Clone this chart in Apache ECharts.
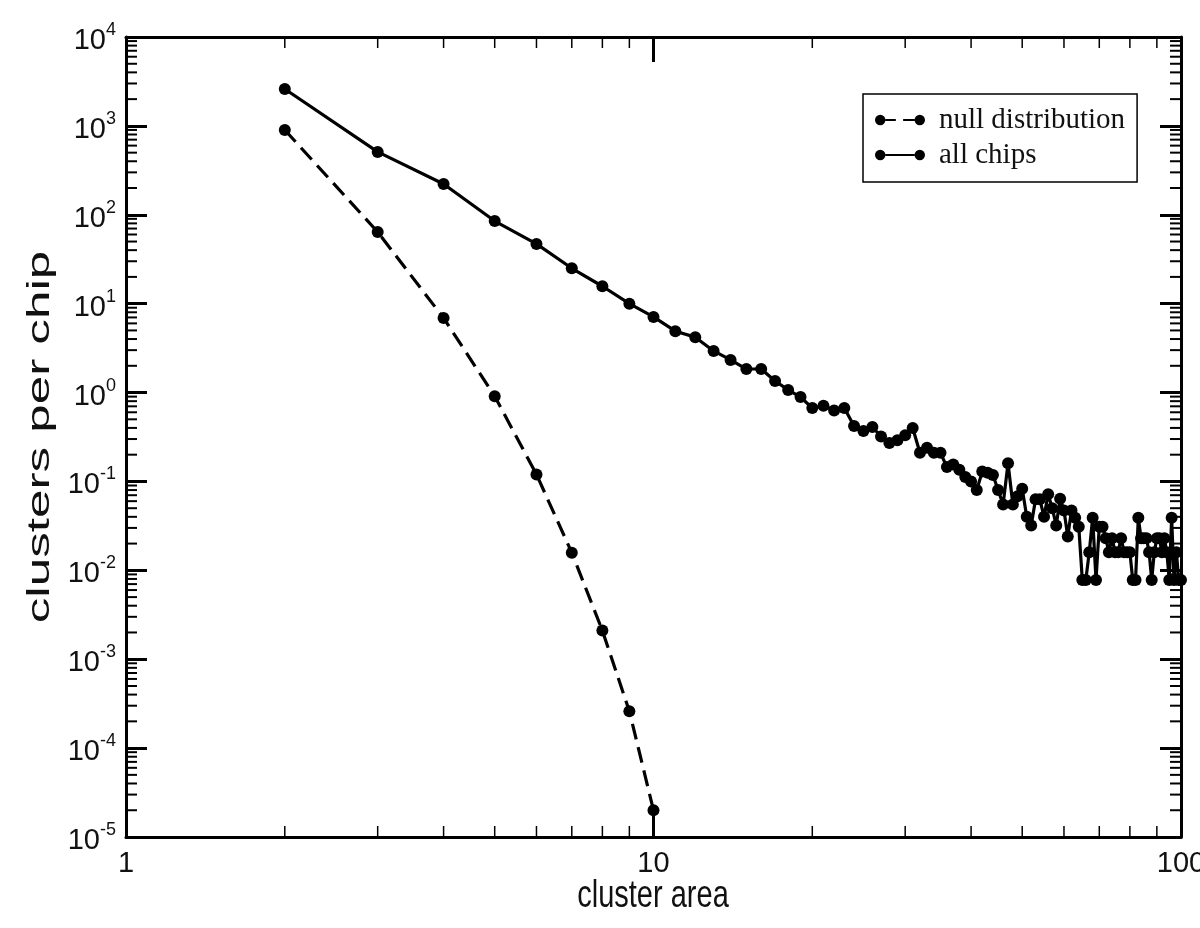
<!DOCTYPE html>
<html>
<head>
<meta charset="utf-8">
<title>clusters per chip</title>
<script src="https://cdn.jsdelivr.net/npm/echarts@6/dist/echarts.min.js"></script>
<style>
  html, body { margin: 0; padding: 0; background: #fff; }
  #main { width: 1200px; height: 928px; }
</style>
</head>
<body>
<div id="main"></div>
<script>
// cluster area, null distribution
var nullArea = [2, 3, 4, 5, 6, 7, 8, 9, 10];
var nullValues = [900, 64, 6.9, 0.91, 0.12, 0.0158, 0.0021, 0.00026, 0.00002];

// cluster area, all chips
var allArea = [
  2, 3, 4, 5, 6, 7, 8, 9, 10,
  11, 12, 13, 14, 15, 16, 17, 18, 19, 20,
  21, 22, 23, 24, 25, 26, 27, 28, 29, 30,
  31, 32, 33, 34, 35, 36, 37, 38, 39, 40,
  41, 42, 43, 44, 45, 46, 47, 48, 49, 50,
  51, 52, 53, 54, 55, 56, 57, 58, 59, 60,
  61, 62, 63, 64, 65, 66, 67, 68, 69, 70,
  71, 72, 73, 74, 75, 76, 77, 78, 79, 80,
  81, 82, 83, 84, 85, 86, 87, 88, 89, 90,
  91, 92, 93, 94, 95, 96, 97, 98, 99, 100
];
var allValues = [
  2600, 510, 222, 85, 47, 25, 15.7, 10, 7.1,
  4.9, 4.2, 2.94, 2.33, 1.84, 1.84, 1.35, 1.07, 0.89, 0.67,
  0.71, 0.63, 0.67, 0.42, 0.37, 0.41, 0.32, 0.27, 0.29, 0.33,
  0.40, 0.21, 0.24, 0.21, 0.21, 0.145, 0.155, 0.135, 0.112, 0.1,
  0.08, 0.129, 0.125, 0.118, 0.08, 0.055, 0.16, 0.055, 0.068, 0.083,
  0.04, 0.032, 0.063, 0.063, 0.04, 0.072, 0.05, 0.032, 0.064, 0.047,
  0.024, 0.047, 0.039, 0.031, 0.0078, 0.0078, 0.016, 0.039, 0.0078, 0.031,
  0.031, 0.023, 0.016, 0.023, 0.016, 0.016, 0.023, 0.016, 0.016, 0.016,
  0.0078, 0.0078, 0.039, 0.023, 0.023, 0.023, 0.016, 0.0078, 0.016, 0.023,
  0.023, 0.016, 0.023, 0.016, 0.0078, 0.039, 0.0078, 0.016, 0.0078, 0.0078
];

// axis ranges and minor tick positions
var xRange = [1, 100];
var yRange = [1e-5, 1e4];
var minorMantissas = [2, 3, 4, 5, 6, 7, 8, 9];
var xDecades = [1, 10];
var yDecades = [1e-5, 1e-4, 1e-3, 1e-2, 1e-1, 1, 10, 100, 1000];

function pairs(xs, ys) {
  return xs.map(function (x, i) { return [x, ys[i]]; });
}
function minorTicks(decades) {
  var out = [];
  decades.forEach(function (d) {
    minorMantissas.forEach(function (m) { out.push(m * d); });
  });
  return out;
}

var chart = echarts.init(document.getElementById('main'));

var sansFont = '"Liberation Sans", Arial, sans-serif';
var serifFont = '"Liberation Serif", "Times New Roman", serif';

function yLabel(v) {
  var e = Math.round(Math.log10(v));
  return '{b|10}{s|' + e + '}';
}

var nullIcon = 'path://M1,6 A5,5 0 1,1 11,6 A5,5 0 1,1 1,6 Z M11,5 L21,5 L21,7 L11,7 Z M28,5 L39,5 L39,7 L28,7 Z M39,6 A5,5 0 1,1 49,6 A5,5 0 1,1 39,6 Z';
var allIcon = 'path://M1,6 A5,5 0 1,1 11,6 A5,5 0 1,1 1,6 Z M11,5 L39,5 L39,7 L11,7 Z M39,6 A5,5 0 1,1 49,6 A5,5 0 1,1 39,6 Z';

var axisBase = {
  type: 'log',
  logBase: 10,
  axisLine: { lineStyle: { color: '#000', width: 3 } },
  splitLine: { show: false },
  minorTick: { show: false },
  minorSplitLine: { show: false }
};

// minor ticks drawn through the axes' own scales
function xMinorRender(params, api) {
  var v = api.value(0);
  var b = api.coord([v, yRange[0]]);
  var t = api.coord([v, yRange[1]]);
  var st = { stroke: '#000', lineWidth: 1.5 };
  return {
    type: 'group',
    children: [
      { type: 'line', shape: { x1: b[0], y1: b[1], x2: b[0], y2: b[1] - 11 }, style: st },
      { type: 'line', shape: { x1: t[0], y1: t[1], x2: t[0], y2: t[1] + 11 }, style: st }
    ]
  };
}
function yMinorRender(params, api) {
  var v = api.value(1);
  var l = api.coord([xRange[0], v]);
  var r = api.coord([xRange[1], v]);
  var st = { stroke: '#000', lineWidth: 2 };
  return {
    type: 'group',
    children: [
      { type: 'line', shape: { x1: l[0], y1: l[1], x2: l[0] + 11, y2: l[1] }, style: st },
      { type: 'line', shape: { x1: r[0], y1: r[1], x2: r[0] - 11, y2: r[1] }, style: st }
    ]
  };
}

var option = {
  backgroundColor: '#fff',
  animation: false,
  grid: { left: 126, right: 19, top: 37, bottom: 91, containLabel: false, outerBoundsMode: 'none' },
  legend: {
    data: [
      { name: 'null distribution', icon: nullIcon },
      { name: 'all chips', icon: allIcon }
    ],
    orient: 'vertical',
    left: 863,
    top: 94,
    padding: [11, 12, 12, 12],
    itemGap: 5,
    itemWidth: 50,
    itemHeight: 12,
    borderColor: '#000',
    borderWidth: 1.5,
    borderRadius: 0,
    selectedMode: false,
    textStyle: { fontFamily: serifFont, fontSize: 29, color: '#111', lineHeight: 30, padding: [0, 0, 0, 9] }
  },
  // axis titles, stretched like the original figure's lettering
  graphic: [
    {
      type: 'text',
      x: 40, y: 437,
      rotation: Math.PI / 2,
      scaleX: 1.65,
      style: { text: 'clusters per chip', fontFamily: sansFont, fontSize: 31, fill: '#111', align: 'center', verticalAlign: 'middle' }
    },
    {
      type: 'text',
      x: 653, y: 896,
      scaleY: 1.35,
      style: { text: 'cluster area', fontFamily: sansFont, fontSize: 29, fill: '#111', align: 'center', verticalAlign: 'middle' }
    }
  ],
  xAxis: [
    Object.assign({}, axisBase, {
      min: xRange[0], max: xRange[1],
      position: 'bottom',
      axisTick: { inside: true, length: 25, lineStyle: { color: '#000', width: 3 } },
      axisLabel: { fontFamily: sansFont, fontSize: 29, color: '#111', margin: 12 }
    }),
    Object.assign({}, axisBase, {
      min: xRange[0], max: xRange[1],
      position: 'top',
      axisTick: { inside: true, length: 25, lineStyle: { color: '#000', width: 3 } },
      axisLabel: { show: false }
    })
  ],
  yAxis: [
    Object.assign({}, axisBase, {
      min: yRange[0], max: yRange[1],
      position: 'left',
      axisTick: { inside: true, length: 21, lineStyle: { color: '#000', width: 3 } },
      axisLabel: {
        formatter: yLabel,
        margin: 10,
        rich: {
          b: { fontFamily: sansFont, fontSize: 29, color: '#111', padding: [8, 0, 0, 0] },
          s: { fontFamily: sansFont, fontSize: 18, color: '#111', padding: [0, 0, 14, 0] }
        }
      }
    }),
    Object.assign({}, axisBase, {
      min: yRange[0], max: yRange[1],
      position: 'right',
      axisTick: { inside: true, length: 21, lineStyle: { color: '#000', width: 3 } },
      axisLabel: { show: false }
    })
  ],
  series: [
    {
      type: 'custom',
      name: 'xMinor',
      xAxisIndex: 0, yAxisIndex: 0,
      renderItem: xMinorRender,
      data: minorTicks(xDecades).map(function (v) { return [v, 1]; }),
      clip: false,
      silent: true,
      z: 1
    },
    {
      type: 'custom',
      name: 'yMinor',
      xAxisIndex: 0, yAxisIndex: 0,
      renderItem: yMinorRender,
      data: minorTicks(yDecades).map(function (v) { return [2, v]; }),
      clip: false,
      silent: true,
      z: 1
    },
    {
      type: 'line',
      name: 'null distribution',
      data: pairs(nullArea, nullValues),
      symbol: 'circle',
      symbolSize: 12,
      itemStyle: { color: '#000' },
      lineStyle: { color: '#000', width: 3.2, type: [16, 8] },
      z: 3
    },
    {
      type: 'line',
      name: 'all chips',
      data: pairs(allArea, allValues),
      symbol: 'circle',
      symbolSize: 12,
      itemStyle: { color: '#000' },
      lineStyle: { color: '#000', width: 3.2 },
      z: 3
    }
  ]
};

chart.setOption(option);
</script>
</body>
</html>
